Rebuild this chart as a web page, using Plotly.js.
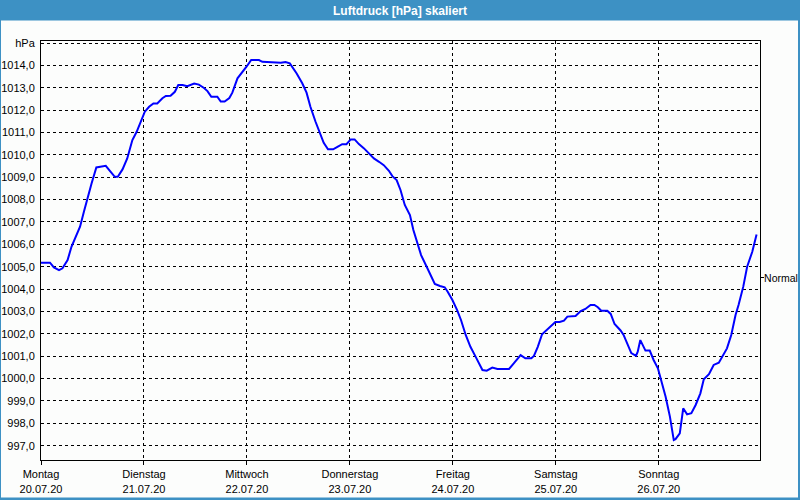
<!DOCTYPE html>
<html>
<head>
<meta charset="utf-8">
<script src="https://cdn.plot.ly/plotly-3.0.1.min.js"></script>
<style>
  html, body { margin: 0; padding: 0; background: #fcfdfc; }
  #chart { width: 800px; height: 500px; }
</style>
</head>
<body>
<div id="chart"></div>
<script>
// Hours since Monday 20.07.20 00:00
const hours = [0, 2.1, 3.0, 4.2, 5.0, 6.2, 7.1, 8.1, 9.1, 10.0, 11.0, 11.8, 12.9, 13.9, 15.1, 16.2, 17.2, 17.9, 19.0, 20.1,
  21.3, 22.3, 23.2, 24.2, 25.2, 26.2, 27.1, 28.3, 29.1, 30.2, 31.2, 32.0, 33.0, 34.1, 35.7, 36.8, 38.0, 38.8, 39.7, 41.1,
  41.9, 42.8, 43.9, 44.6, 45.8, 46.9, 47.9, 49.0, 50.8, 51.6, 54.7, 55.9, 57.0, 58.0, 59.6, 60.9, 61.9, 62.8, 64.0, 65.2,
  65.9, 66.9, 68.1, 69.1, 70.2, 71.2, 72.2, 73.1, 74.1, 75.3, 76.4, 77.6, 78.8, 79.9, 81.1, 81.9, 82.9, 83.8, 84.8, 86.0,
  86.8, 87.7, 88.6, 89.9, 90.8, 91.8, 93.0, 94.1, 94.8, 95.9, 97.0, 97.9, 99.0, 100.1, 101.3, 102.3, 102.9, 103.9, 105.2, 106.4,
  109.1, 110.2, 111.8, 112.9, 114.3, 114.9, 115.8, 116.8, 117.8, 118.9, 119.9, 120.9, 121.9, 122.7, 124.6, 125.8, 126.9, 128.1, 129.0, 129.8,
  130.6, 132.0, 132.8, 133.7, 135.1, 135.8, 136.7, 137.6, 138.7, 139.1, 139.7, 140.6, 140.9, 141.9, 142.8, 143.8, 144.6, 145.6, 146.6, 147.5,
  147.9, 148.9, 149.7, 150.6, 151.6, 152.6, 153.7, 154.5, 155.7, 156.8, 158.0, 158.8, 159.9, 160.9, 161.9, 162.6, 163.7, 164.6, 165.8, 166.8];

// Luftdruck in hPa
const pressure = [1005.18, 1005.18, 1004.97, 1004.85, 1004.93, 1005.30, 1005.89, 1006.31, 1006.79, 1007.46, 1008.20, 1008.73, 1009.44, 1009.47, 1009.51, 1009.25, 1009.02, 1009.02, 1009.35, 1009.84,
  1010.66, 1011.03, 1011.48, 1011.93, 1012.15, 1012.30, 1012.30, 1012.53, 1012.63, 1012.64, 1012.82, 1013.12, 1013.12, 1013.07, 1013.19, 1013.14, 1012.99, 1012.85, 1012.60, 1012.60,
  1012.38, 1012.38, 1012.54, 1012.78, 1013.42, 1013.67, 1013.94, 1014.24, 1014.24, 1014.16, 1014.15, 1014.12, 1014.15, 1014.09, 1013.64, 1013.20, 1012.78, 1012.15, 1011.48, 1010.89,
  1010.54, 1010.25, 1010.25, 1010.36, 1010.48, 1010.48, 1010.69, 1010.69, 1010.48, 1010.29, 1010.07, 1009.84, 1009.69, 1009.54, 1009.29, 1009.05, 1008.87, 1008.43, 1007.76, 1007.31,
  1006.64, 1006.05, 1005.52, 1005.00, 1004.63, 1004.23, 1004.14, 1004.08, 1003.88, 1003.51, 1003.06, 1002.62, 1001.95, 1001.42, 1000.98, 1000.61, 1000.38, 1000.35, 1000.49, 1000.43,
  1000.43, 1000.68, 1001.05, 1000.91, 1000.91, 1001.01, 1001.42, 1001.98, 1002.17, 1002.35, 1002.53, 1002.53, 1002.59, 1002.77, 1002.80, 1003.02, 1003.11, 1003.29, 1003.29, 1003.19,
  1003.03, 1003.03, 1002.89, 1002.44, 1002.15, 1001.95, 1001.52, 1001.14, 1001.02, 1001.20, 1001.72, 1001.39, 1001.25, 1001.25, 1000.83, 1000.46, 999.94, 999.19, 998.30, 997.25,
  997.29, 997.55, 998.67, 998.40, 998.45, 998.82, 999.34, 999.97, 1000.20, 1000.61, 1000.71, 1000.98, 1001.35, 1001.95, 1002.84, 1003.29, 1004.11, 1005.00, 1005.67, 1006.44];

const dayHours = [0, 24, 48, 72, 96, 120, 144];
const dayNames = ["Montag", "Dienstag", "Mittwoch", "Donnerstag", "Freitag", "Samstag", "Sonntag"];
const dayDates = ["20.07.20", "21.07.20", "22.07.20", "23.07.20", "24.07.20", "25.07.20", "26.07.20"];

const yTicks = [997, 998, 999, 1000, 1001, 1002, 1003, 1004, 1005, 1006, 1007, 1008, 1009, 1010, 1011, 1012, 1013, 1014, 1015];
const yTickText = ["997,0", "998,0", "999,0", "1000,0", "1001,0", "1002,0", "1003,0", "1004,0", "1005,0", "1006,0",
  "1007,0", "1008,0", "1009,0", "1010,0", "1011,0", "1012,0", "1013,0", "1014,0", "hPa"];

const normalValue = 1004.5;
const normalLabel = "Normal";
const titleText = "Luftdruck [hPa] skaliert";

const xRange = [0, 167.6];
const yRange = [996.36, 1015.09];

const FONT = "Liberation Sans, Arial, sans-serif";
const BAR = "#3d91c4";

const trace = {
  x: hours, y: pressure, type: "scatter", mode: "lines",
  line: { color: "#0000ff", width: 2 },
  hoverinfo: "skip", showlegend: false
};
const normalTrace = {
  x: [hours[0]], y: [normalValue], type: "scatter", mode: "markers",
  marker: { opacity: 0 }, yaxis: "y2", showlegend: false, hoverinfo: "skip"
};

const L = 41, R = 40, T = 41, B = 40, W = 800, H = 500;
const pw = W - L - R, ph = H - T - B;
const px = v => (v - L) / pw;            // pixel -> paper x
const py = v => (H - B - v) / ph;        // pixel -> paper y

const layout = {
  width: W, height: H,
  margin: { l: L, r: R, t: T, b: B, pad: 0 },
  paper_bgcolor: "#fcfdfc", plot_bgcolor: "#fcfdfc",
  font: { family: FONT, size: 11, color: "#000" },
  title: {
    text: "<b>" + titleText + "</b>",
    font: { family: FONT, size: 12, color: "#ffffff" },
    x: 0.5, xref: "container", xanchor: "center",
    y: 1 - 10.5 / H, yref: "container", yanchor: "middle"
  },
  xaxis: {
    range: xRange, tickmode: "array", tickvals: dayHours,
    ticktext: dayNames.map((d, i) => d + "<br>" + dayDates[i]),
    showgrid: true, gridcolor: "#000", gridwidth: 1, griddash: "3px,3px",
    ticks: "outside", ticklen: 4, tickcolor: "#000", tickwidth: 1,
    showline: true, linecolor: "#000", linewidth: 1, mirror: true,
    zeroline: false, fixedrange: true, automargin: false,
    tickfont: { family: FONT, size: 11, color: "#000" }
  },
  yaxis: {
    range: yRange, tickmode: "array", tickvals: yTicks, ticktext: yTickText,
    showgrid: true, gridcolor: "#000", gridwidth: 1, griddash: "3px,3px",
    ticks: "", ticklabelstandoff: 3,
    showline: true, linecolor: "#000", linewidth: 1, mirror: true,
    zeroline: false, fixedrange: true, automargin: false,
    tickfont: { family: FONT, size: 11, color: "#000" }
  },
  yaxis2: {
    range: yRange, overlaying: "y", side: "right", tickmode: "array",
    tickvals: [normalValue], ticktext: [normalLabel],
    ticks: "outside", ticklen: 3, tickcolor: "#000", tickwidth: 1,
    ticklabelstandoff: -2,
    showgrid: false, showline: false, zeroline: false, fixedrange: true, automargin: false,
    tickfont: { family: FONT, size: 10.5, color: "#000" }
  },
  shapes: [
    { type: "rect", xref: "paper", yref: "paper", x0: px(0), x1: px(W), y0: py(20.5), y1: py(0),
      fillcolor: BAR, line: { width: 0 }, layer: "below" },
    { type: "rect", xref: "paper", yref: "paper", x0: px(0), x1: px(1), y0: py(H), y1: py(0),
      fillcolor: BAR, line: { width: 0 }, layer: "below" },
    { type: "rect", xref: "paper", yref: "paper", x0: px(798), x1: px(W), y0: py(H), y1: py(0),
      fillcolor: BAR, line: { width: 0 }, layer: "below" },
    { type: "rect", xref: "paper", yref: "paper", x0: px(0), x1: px(W), y0: py(H), y1: py(497.5),
      fillcolor: BAR, line: { width: 0 }, layer: "below" }
  ]
};

Plotly.newPlot("chart", [trace, normalTrace], layout, { staticPlot: true, displayModeBar: false });
</script>
</body>
</html>
